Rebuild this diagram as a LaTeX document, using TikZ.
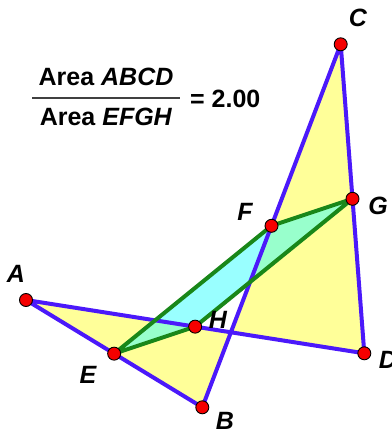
\documentclass[tikz,border=0pt]{standalone}
\usepackage{fontspec}
\setmainfont{Liberation Sans}
\usepackage{xcolor}
\usetikzlibrary{calc}
\definecolor{QYellow}{RGB}{255,255,153}
\definecolor{QCyan}{RGB}{51,255,255}
\definecolor{QBlue}{RGB}{75,25,250}
\definecolor{QGreen}{RGB}{25,135,25}
\definecolor{QRed}{RGB}{245,0,0}

\begin{document}
\begin{tikzpicture}[
    x=1pt, y=-1pt,
    outer/.style={draw=QBlue, line width=4pt, line join=round},
    inner/.style={draw=QGreen, line width=4pt, line join=round},
    dot/.style={circle, fill=QRed, draw=black, line width=0.9pt, inner sep=0pt, minimum size=13pt},
    lbl/.style={inner sep=0pt, font=\fontsize{25}{30}\selectfont\bfseries\itshape},
    ratio/.style={inner sep=0pt, font=\fontsize{25}{30}\selectfont\bfseries}
  ]
  \useasboundingbox (0,0) rectangle (391,431);

  % vertices and midpoints
  \coordinate (A) at (26,300);
  \coordinate (B) at (202.3,407.3);
  \coordinate (C) at (340.7,44.3);
  \coordinate (D) at (364.3,353.3);
  \coordinate (E) at ($(A)!0.5!(B)$);
  \coordinate (F) at ($(B)!0.5!(C)$);
  \coordinate (G) at ($(C)!0.5!(D)$);
  \coordinate (H) at ($(D)!0.5!(A)$);

  % fills
  \fill[QYellow] (A) -- (B) -- (C) -- (D) -- cycle;
  \fill[QCyan, fill opacity=0.5] (E) -- (F) -- (G) -- (H) -- cycle;

  % sides
  \draw[outer] (A) -- (B) -- (C) -- (D) -- cycle;
  \draw[inner] (E) -- (F) -- (G) -- (H) -- cycle;

  \foreach \p in {A,B,C,D,E,F,G,H}
    \node[dot] (dot\p) at (\p) {};

  % labels
  \node[lbl] (lblA) at (16,274) {A};
  \node[lbl] (lblB) at (225,421) {B};
  \node[lbl] (lblC) at (358,18) {C};
  \node[lbl] (lblD) at (388,360) {D};
  \node[lbl] (lblE) at (88,375) {E};
  \node[lbl] (lblF) at (245,212) {F};
  \node[lbl] (lblG) at (378,206) {G};
  \node[lbl] (lblH) at (218,320) {H};

  % measurement
  \node[ratio, anchor=base] (num) at (106,85) {Area \textit{ABCD}};
  \node[ratio, anchor=base] (den) at (106,125) {Area \textit{EFGH}};
  \coordinate (barL) at (32,98);
  \coordinate (barR) at (180,98);
  \draw[black!75, line width=2pt] (barL) -- (barR);
  \node[ratio, anchor=base west] (val) at (190,107) {= 2.00};
\end{tikzpicture}
\end{document}
